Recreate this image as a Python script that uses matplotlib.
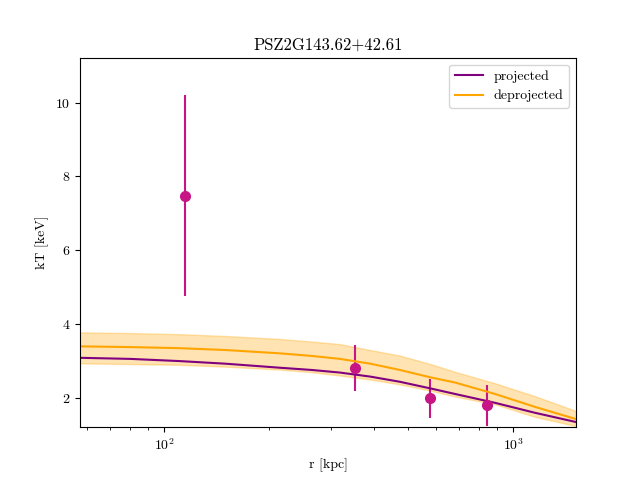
#!/usr/bin/env python3

import matplotlib
matplotlib.use("Agg")
import matplotlib.pyplot as plt

plt.rcParams['font.family'] = 'serif'
plt.rcParams['font.serif'] = ['cmr10']
plt.rcParams['mathtext.fontset'] = 'cm'
plt.rcParams['axes.formatter.use_mathtext'] = True
plt.rcParams['axes.unicode_minus'] = False

title = "PSZ2G143.62+42.61"

# measured spectral temperatures
r_obs = [114.8, 352.0, 578.0, 842.0]
kt_obs = [7.48, 2.81, 1.99, 1.80]
kt_err = [2.73, 0.62, 0.53, 0.55]

# model profiles
r_model = [57, 80, 111, 150, 215, 265, 319, 390, 474, 580, 682, 888, 1156, 1515]
kt_proj = [3.09, 3.06, 3.00, 2.93, 2.82, 2.76, 2.69, 2.58, 2.44, 2.26,
           2.11, 1.87, 1.60, 1.35]
kt_deproj = [3.40, 3.38, 3.35, 3.30, 3.21, 3.14, 3.06, 2.93, 2.76, 2.56,
             2.42, 2.11, 1.76, 1.43]
kt_deproj_hi = [3.78, 3.76, 3.73, 3.68, 3.60, 3.53, 3.46, 3.30, 3.15, 2.92,
                2.71, 2.40, 2.05, 1.65]
kt_deproj_lo = [2.94, 2.92, 2.90, 2.85, 2.77, 2.70, 2.61, 2.50, 2.37, 2.20,
                2.04, 1.83, 1.49, 1.24]

fig, ax = plt.subplots(figsize=(6.4, 4.8), dpi=100)

ax.errorbar(r_obs, kt_obs, yerr=kt_err, fmt='o', color='mediumvioletred',
            markersize=7, elinewidth=1.5)
ax.plot(r_model, kt_proj, color='purple', label='projected')
ax.plot(r_model, kt_deproj, color='orange', label='deprojected')
ax.fill_between(r_model, kt_deproj_lo, kt_deproj_hi, color='orange', alpha=0.3)

ax.set_xscale('log')
ax.set_xlim(57.4, 1515)
ax.set_ylim(1.21, 11.22)
ax.set_xlabel('r [kpc]')
ax.set_ylabel('kT [keV]')
ax.set_title(title)
ax.legend(loc='upper right')

plt.savefig('out.png', dpi=100)
plt.close(fig)
